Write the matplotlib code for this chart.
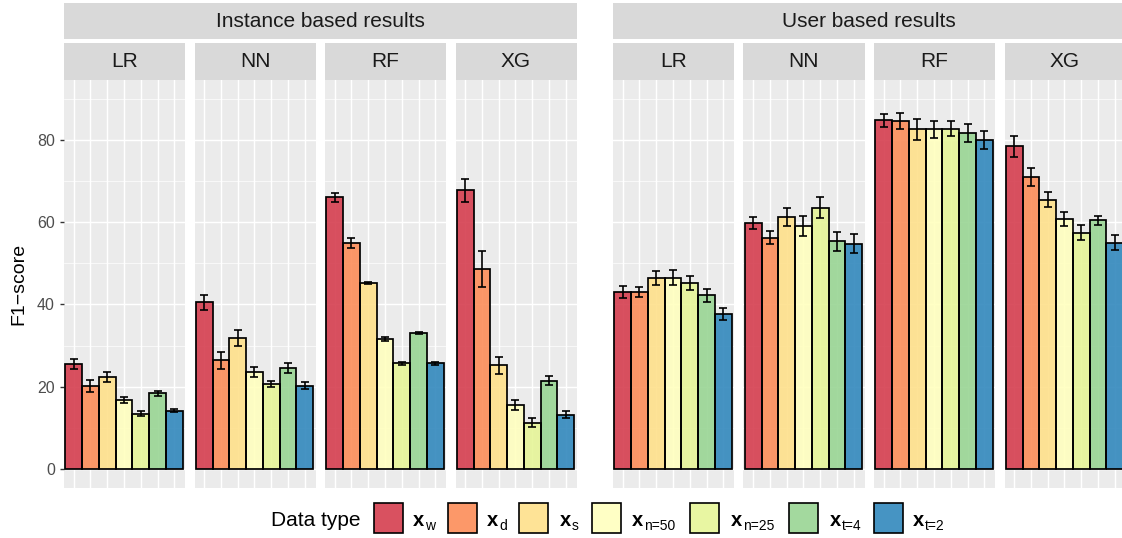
import numpy as np
import matplotlib
matplotlib.use("Agg")
import matplotlib.pyplot as plt
from matplotlib.patches import Rectangle

plt.rcParams["font.family"] = ["Liberation Sans", "DejaVu Sans"]

# ---- data -------------------------------------------------------------
data_types = ["w", "d", "s", "n=50", "n=25", "t=4", "t=2"]
models = ["LR", "NN", "RF", "XG"]
groups = ["Instance based results", "User based results"]

inst_lr = [25.6, 20.2, 22.3, 16.8, 13.5, 18.4, 14.2]
inst_lr_err = [1.25, 1.4, 1.2, 0.8, 0.6, 0.65, 0.4]
inst_nn = [40.5, 26.4, 31.8, 23.7, 20.6, 24.5, 20.3]
inst_nn_err = [1.8, 2.0, 1.9, 1.2, 0.7, 1.2, 0.8]
inst_rf = [66.0, 55.0, 45.2, 31.6, 25.7, 33.1, 25.7]
inst_rf_err = [1.15, 1.2, 0.3, 0.4, 0.3, 0.25, 0.3]
inst_xg = [67.7, 48.6, 25.2, 15.5, 11.3, 21.5, 13.2]
inst_xg_err = [2.75, 4.3, 2.0, 1.2, 1.1, 1.1, 0.85]

user_lr = [43.0, 43.0, 46.4, 46.5, 45.2, 42.2, 37.7]
user_lr_err = [1.4, 1.25, 1.6, 1.8, 1.7, 1.5, 1.45]
user_nn = [59.8, 56.2, 61.2, 59.1, 63.5, 55.3, 54.7]
user_nn_err = [1.5, 1.6, 2.2, 2.4, 2.5, 2.3, 2.3]
user_rf = [84.7, 84.6, 82.5, 82.5, 82.7, 81.6, 79.9]
user_rf_err = [1.5, 2.0, 2.5, 2.0, 1.85, 2.15, 2.2]
user_xg = [78.4, 71.0, 65.4, 60.8, 57.4, 60.4, 55.0]
user_xg_err = [2.6, 2.25, 1.85, 1.7, 1.85, 1.15, 1.9]

results = {
    groups[0]: [(inst_lr, inst_lr_err), (inst_nn, inst_nn_err),
                (inst_rf, inst_rf_err), (inst_xg, inst_xg_err)],
    groups[1]: [(user_lr, user_lr_err), (user_nn, user_nn_err),
                (user_rf, user_rf_err), (user_xg, user_xg_err)],
}

y_ticks = [0, 20, 40, 60, 80]

# Spectral palette, drawn with alpha 0.9 like the ggplot fill
colors = ["#D53E4F", "#FC8D59", "#FEE08B", "#FFFFBF", "#E6F598", "#99D594", "#3288BD"]

# ---- layout (pixel based) --------------------------------------------
W, H = 1122, 538
fig = plt.figure(figsize=(W / 100, H / 100), dpi=100)


def fx(px):
    return px / W


def fy(py):
    return 1 - py / H


panel_w = 121
gap = 9.5
group_left = [64, 613]
panel_top, panel_bot = 80.0, 487.7
strip_top, strip_bot = 43.3, 80.0
gstrip_top, gstrip_bot = 3.3, 39.3

strip_col = "#D9D9D9"
panel_col = "#EBEBEB"
x = np.arange(1, len(data_types) + 1)

for gi, gname in enumerate(groups):
    g0 = group_left[gi]
    g1 = g0 + 4 * panel_w + 3 * gap
    sax = fig.add_axes([fx(g0), fy(gstrip_bot), fx(g1 - g0), (gstrip_bot - gstrip_top) / H])
    sax.set_facecolor(strip_col)
    sax.set_xticks([]); sax.set_yticks([])
    for s in sax.spines.values():
        s.set_visible(False)
    sax.text(0.5, 0.5, gname, ha="center", va="center", fontsize=15,
             color="#1A1A1A", transform=sax.transAxes)

    for mi, mname in enumerate(models):
        left = g0 + mi * (panel_w + gap)
        # facet strip
        fax = fig.add_axes([fx(left), fy(strip_bot), fx(panel_w), (strip_bot - strip_top) / H])
        fax.set_facecolor(strip_col)
        fax.set_xticks([]); fax.set_yticks([])
        for s in fax.spines.values():
            s.set_visible(False)
        fax.text(0.5, 0.5, mname, ha="center", va="center", fontsize=15,
                 color="#1A1A1A", transform=fax.transAxes)

        ax = fig.add_axes([fx(left), fy(panel_bot), fx(panel_w), (panel_bot - panel_top) / H])
        ax.set_facecolor(panel_col)
        for s in ax.spines.values():
            s.set_visible(False)
        ax.set_xlim(0.42, 7.64)
        ax.set_ylim(-4.5, 94.5)
        ax.set_xticks(x)
        ax.set_yticks(y_ticks)
        ax.set_yticks([10, 30, 50, 70, 90], minor=True)
        ax.grid(which="major", color="white", linewidth=1.05)
        ax.grid(which="minor", axis="y", color="white", linewidth=0.5)
        ax.set_axisbelow(True)
        ax.tick_params(axis="x", which="both", length=0, labelbottom=False)
        if gi == 0 and mi == 0:
            ax.tick_params(axis="y", which="major", length=3, width=1.0,
                           color="#333333", labelsize=11.5, labelcolor="#4D4D4D", pad=3.5)
            ax.tick_params(axis="y", which="minor", length=0)
            ax.set_ylabel("F1\u2212score", fontsize=14, color="black", labelpad=7)
        else:
            ax.tick_params(axis="y", which="both", length=0, labelleft=False)

        vals, errs = results[gname][mi]
        ax.bar(x, vals, width=1.0, color=colors, alpha=0.9, edgecolor="none", zorder=2)
        ax.bar(x, vals, width=1.0, facecolor="none", edgecolor="black", linewidth=1.25, zorder=3)
        ax.errorbar(x, vals, yerr=errs, fmt="none", ecolor="black", elinewidth=1.2,
                    capsize=3.2, capthick=1.2, zorder=4)

# ---- legend -----------------------------------------------------------
legend_baseline = 526
fig.text(fx(271), fy(legend_baseline), "Data type", fontsize=15, va="baseline", ha="left")
key_left = [374, 448, 519, 592, 690, 789, 874]
label_left = [413, 487, 560, 632, 731, 830, 913]
for i, dt in enumerate(data_types):
    r = Rectangle((fx(key_left[i]), fy(533.3)), fx(28.5), 30.0 / H,
                  transform=fig.transFigure, facecolor=colors[i], alpha=0.9,
                  edgecolor="none")
    fig.add_artist(r)
    rb = Rectangle((fx(key_left[i]), fy(533.3)), fx(28.5), 30.0 / H,
                   transform=fig.transFigure, facecolor="none",
                   edgecolor="black", linewidth=1.2)
    fig.add_artist(rb)
    # bold "x" with a plain subscript
    fig.text(fx(label_left[i]), fy(legend_baseline), "x", fontsize=14.5,
             fontweight="bold", va="baseline", ha="left")
    fig.text(fx(label_left[i] + 12), fy(legend_baseline + 3.8), dt, fontsize=10,
             va="baseline", ha="left")

fig.savefig("out.png", dpi=100)
